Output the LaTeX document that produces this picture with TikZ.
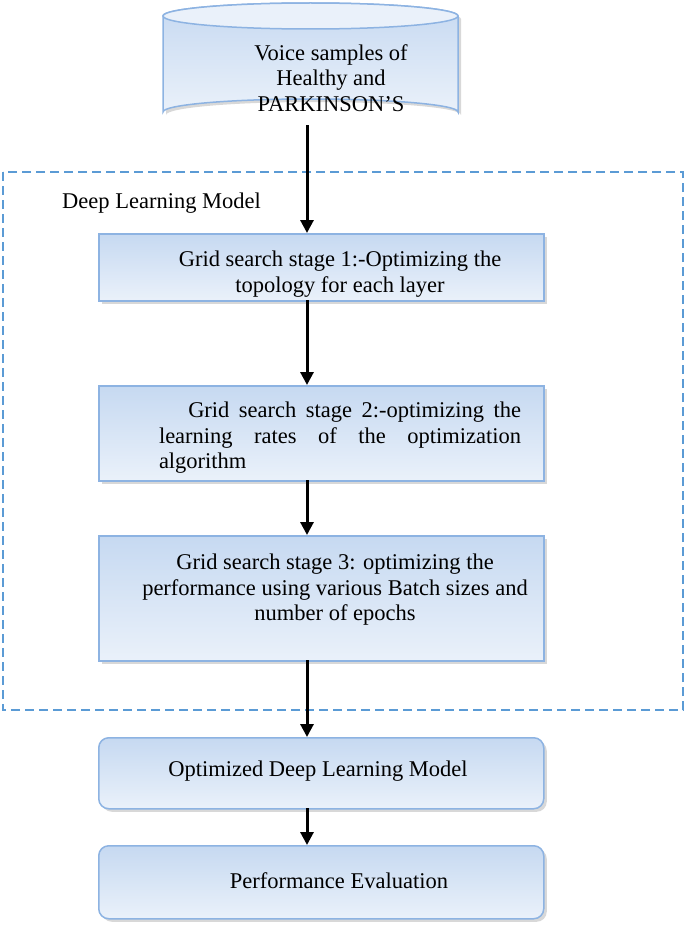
\documentclass[tikz,border=0pt]{standalone}
\usepackage{fontspec}
\setmainfont{Liberation Serif}
\usetikzlibrary{shapes.geometric,arrows.meta,shadows}
\definecolor{bord}{HTML}{8DB3E2}
\definecolor{dash}{HTML}{5B9BD5}
\definecolor{topc}{HTML}{C6D9F1}
\definecolor{botc}{HTML}{EAF1FA}
\begin{document}
\begin{tikzpicture}[x=1pt,y=-1pt,
  box/.style={draw=bord,line width=1.5pt,top color=topc,bottom color=botc,drop shadow={shadow xshift=3pt,shadow yshift=-3pt,fill=gray!60}},
  txt/.style={font=\fontsize{22.5}{25.5}\selectfont,align=center},
  arr/.style={-{Triangle[length=13pt,width=13pt]},line width=3pt}]
\useasboundingbox (0,0) rectangle (685,934);
% dashed frame
\draw[draw=dash,line width=2.2pt,dash pattern=on 9pt off 5pt] (3,172) rectangle (683,710);
\node[txt,anchor=west,inner sep=0pt] (dl) at (62,203) {Deep Learning Model};
% cylinder
\fill[top color=topc,bottom color=botc,draw=bord,line width=1.5pt,drop shadow={shadow xshift=3pt,shadow yshift=-3pt,fill=gray!60}]
  (163,16) arc[start angle=180,end angle=360,x radius=147.5,y radius=13] -- (458,112)
  arc[start angle=0,end angle=-180,x radius=147.5,y radius=13] -- cycle;
\draw[draw=bord,line width=1.5pt,fill=botc] (310.5,16) ellipse[x radius=147.5,y radius=13];
\coordinate (cylb) at (307,125);
\node[txt] (vs) at (331,78) {Voice samples of\\Healthy and\\PARKINSON’S};
% boxes
\node[box,minimum width=445pt,minimum height=67pt,anchor=north west] (b1) at (98,233) {};
\node[txt] at (340,274) {Grid search stage 1:-Optimizing the\\topology for each layer};
\node[box,minimum width=445pt,minimum height=95pt,anchor=north west] (b2) at (98,385) {};
\node[txt,text width=362pt,align=justify] at (340,438) {\hyphenpenalty=10000\hspace*{1.3em}Grid search stage 2:-optimizing the\linebreak learning rates of the optimization\linebreak algorithm};
\node[box,minimum width=445pt,minimum height=125pt,anchor=north west] (b3) at (98,535) {};
\node[txt] at (335,590) {Grid search stage 3: optimizing the\\performance using various Batch sizes and\\number of epochs};
\node[box,rounded corners=10pt,minimum width=445pt,minimum height=71pt,anchor=north west] (b4) at (98,737) {};
\node[txt] at (318,771) {Optimized Deep Learning Model};
\node[box,rounded corners=10pt,minimum width=445pt,minimum height=73pt,anchor=north west] (b5) at (98,845) {};
\node[txt] at (339,881) {Performance Evaluation};
% arrows
\draw[arr] (cylb) -- (307,233);
\draw[arr] (307,300) -- (307,385);
\draw[arr] (307,480) -- (307,535);
\draw[arr] (307,660) -- (307,737);
\draw[arr] (307,808) -- (307,845);
\end{tikzpicture}
\end{document}
